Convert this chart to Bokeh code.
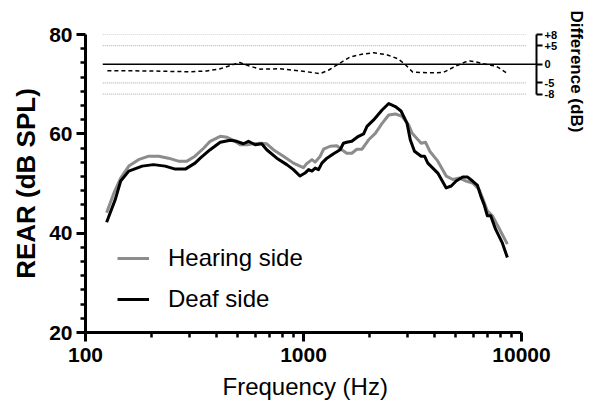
import numpy as np
from bokeh.plotting import figure
from bokeh.models import (Range1d, LinearAxis, FixedTicker, Legend,
                          LegendItem, NumeralTickFormatter, Title)
from bokeh.embed import file_html
from bokeh.resources import INLINE

# ---------------- data ----------------
hearing_freq = [125, 135, 145, 158, 175, 195, 217, 240, 267, 292, 318, 348, 373,
                415, 446, 477, 512, 550, 589, 632, 678, 727, 809, 899, 963, 1000,
                1034, 1093, 1131, 1193, 1236, 1325, 1421, 1498, 1578, 1665, 1756,
                1855, 1989, 2135, 2293, 2460, 2637, 2831, 3035, 3150, 3465, 3630,
                3794, 4130, 4514, 4840, 5190, 5566, 5960, 6395, 6620, 6970, 7350,
                7930, 8610]
hearing_db = [44.1, 48.1, 51.1, 53.5, 54.8, 55.5, 55.5, 55.1, 54.5, 54.5, 55.5,
              57.1, 58.5, 59.5, 59.3, 58.7, 57.8, 57.8, 58.0, 58.1, 58.0, 56.8,
              55.5, 54.1, 53.5, 53.2, 54.0, 54.8, 54.3, 55.5, 56.9, 57.5, 57.6,
              56.8, 56.1, 56.1, 56.9, 56.9, 58.8, 60.1, 62.1, 63.8, 64.0, 63.5,
              61.8, 60.1, 58.1, 58.3, 56.5, 54.5, 51.5, 50.8, 51.1, 50.5, 50.1,
              48.8, 47.1, 44.5, 43.5, 40.8, 37.8]

deaf_freq = [125, 137, 145, 158, 182, 205, 232, 258, 287, 318, 336, 373, 415,
             461, 494, 530, 559, 600, 643, 678, 754, 838, 899, 963, 1016, 1055,
             1093, 1131, 1172, 1214, 1280, 1373, 1472, 1524, 1578, 1665, 1787,
             1887, 1955, 2097, 2293, 2460, 2637, 2800, 2985, 3088, 3228, 3465,
             3590, 3717, 4130, 4514, 4760, 5015, 5370, 5660, 5960, 6280, 6500,
             6730, 6970, 7220, 7600, 8150, 8610]
deaf_db = [42.2, 46.8, 50.5, 52.5, 53.5, 53.8, 53.5, 52.9, 52.9, 54.1, 55.1,
           56.8, 58.3, 58.7, 58.5, 58.0, 58.5, 57.8, 58.0, 56.8, 55.1, 53.8,
           52.8, 51.5, 52.1, 52.8, 52.5, 53.1, 52.8, 54.1, 55.1, 56.0, 56.8,
           58.1, 58.3, 58.5, 59.5, 60.0, 61.5, 62.8, 64.8, 66.1, 65.5, 64.6,
           62.1, 58.8, 56.5, 55.5, 55.5, 54.1, 52.1, 49.1, 49.5, 50.5, 51.3,
           51.3, 50.5, 49.6, 47.5, 45.8, 43.5, 43.5, 40.8, 38.1, 35.1]

diff_freq = [126, 200, 300, 360, 415, 470, 510, 560, 632, 781, 900, 1038, 1190,
             1300, 1413, 1626, 1850, 2100, 2405, 2700, 2900, 3170, 3800, 4370,
             5030, 5500, 5780, 6200, 6620, 7300, 7650, 8640]
diff_db = [-1.7, -1.8, -2.0, -1.8, -1.2, -0.2, 0.5, -0.4, -1.3, -1.2, -1.6, -2.0,
           -2.5, -1.6, -0.3, 1.9, 2.7, 3.1, 2.6, 1.5, 0.2, -2.1, -2.3, -2.2,
           -0.4, 0.6, 0.9, 0.6, 0.2, -0.3, -0.5, -2.5]

x_ticks = [100, 1000, 10000]
y_ticks = [20, 40, 60, 80]
diff_ticks = [8, 5, 0, -5, -8]
diff_guides = [8, 5, -5, -8]
series_names = ["Hearing side", "Deaf side"]

# ---------------- layout constants ----------------
FONT = "Liberation Sans"
W, H = 593, 407
LEFT, TOP, FRAME_W, FRAME_H = 85, 34, 452, 298
DECADE_PX = 437 / 2.0
x_end = 10 ** (2 + FRAME_W / DECADE_PX)
guide_start, guide_end = 120, 10500
diff_range = (-72, 8)

p = figure(width=W, height=H, x_axis_type="log",
           x_range=Range1d(100, x_end), y_range=Range1d(20, 80),
           output_backend="svg", toolbar_location=None,
           min_border_left=LEFT, min_border_top=TOP,
           min_border_right=W - LEFT - FRAME_W,
           min_border_bottom=H - TOP - FRAME_H)
p.outline_line_color = None
p.grid.visible = False
p.background_fill_color = "white"
p.border_fill_color = "white"
p.extra_y_ranges = {"diff": Range1d(*diff_range)}

# bottom axis
xa = p.xaxis[0]
xa.ticker = FixedTicker(ticks=x_ticks,
                        minor_ticks=[m * 10 ** e for e in (2, 3) for m in range(2, 10)])
xa.formatter = NumeralTickFormatter(format="0")
xa.bounds = (x_ticks[0], x_ticks[-1])
xa.axis_line_width = 3
xa.major_tick_line_width = 3
xa.minor_tick_line_width = 2.5
xa.major_tick_out = 9
xa.major_tick_in = 0
xa.minor_tick_out = 5
xa.minor_tick_in = 0
xa.major_label_text_font = FONT
xa.major_label_text_font_style = "bold"
xa.major_label_text_font_size = "21px"
xa.major_label_text_color = "black"
xa.major_label_standoff = 6

# left axis
ya = p.yaxis[0]
minor_y = []
for a, b in zip(y_ticks[:-1], y_ticks[1:]):
    minor_y += list(np.linspace(a, b, 8)[1:-1])
ya.ticker = FixedTicker(ticks=y_ticks, minor_ticks=minor_y)
ya.axis_line_width = 3
ya.major_tick_line_width = 3
ya.minor_tick_line_width = 2.5
ya.major_tick_out = 9
ya.major_tick_in = 0
ya.minor_tick_out = 5
ya.minor_tick_in = 0
ya.major_label_text_font = FONT
ya.major_label_text_font_style = "bold"
ya.major_label_text_font_size = "21px"
ya.major_label_text_color = "black"
ya.major_label_standoff = 4
ya.axis_label = "REAR (dB SPL)"
ya.axis_label_text_font = FONT
ya.axis_label_text_font_style = "bold"
ya.axis_label_text_font_size = "26px"
ya.axis_label_text_color = "black"
ya.axis_label_standoff = 5

# right "difference" axis
ra = LinearAxis(y_range_name="diff",
                ticker=FixedTicker(ticks=diff_ticks, minor_ticks=[]),
                bounds=(min(diff_ticks), max(diff_ticks)))
ra.major_label_overrides = {t: ("0" if t == 0 else f"{t:+d}") for t in diff_ticks}
ra.axis_line_width = 2
ra.major_tick_line_width = 2
ra.major_tick_out = 6
ra.major_tick_in = 0
ra.minor_tick_out = 0
ra.major_label_standoff = 2
ra.major_label_text_font = FONT
ra.major_label_text_font_style = "bold"
ra.major_label_text_font_size = "11px"
ra.major_label_text_color = "black"
p.add_layout(ra, "right")

p.add_layout(Title(text="Difference (dB)", align="left", offset=-24,
                   standoff=12, text_font=FONT, text_font_style="bold",
                   text_font_size="17px", text_color="black"), "right")

# guide lines in the difference panel
p.segment(x0=[guide_start] * len(diff_guides), x1=[guide_end] * len(diff_guides),
          y0=diff_guides, y1=diff_guides, y_range_name="diff",
          line_color="#a8a8a8", line_width=1, line_dash="1 1")
p.segment(x0=[guide_start], x1=[x_end], y0=[0], y1=[0], y_range_name="diff",
          line_color="black", line_width=1.5)
p.line(diff_freq, diff_db, y_range_name="diff", line_color="black",
       line_width=1.5, line_dash="4 3")

# curves
r_h = p.line(hearing_freq, hearing_db, line_color="#8c8c8c", line_width=3,
             line_join="round")
r_d = p.line(deaf_freq, deaf_db, line_color="black", line_width=3,
             line_join="round")

legend = Legend(items=[LegendItem(label=series_names[0], renderers=[r_h]),
                       LegendItem(label=series_names[1], renderers=[r_d])],
                location=(32, 19), padding=0, margin=0, spacing=13,
                glyph_width=32, glyph_height=24, label_height=24,
                label_standoff=19, border_line_color=None,
                background_fill_alpha=0,
                label_text_font=FONT, label_text_font_size="24px",
                label_text_color="black")
p.add_layout(legend)

p.add_layout(Title(text="Frequency (Hz)", align="left", offset=137, standoff=12,
                   text_font=FONT, text_font_style="normal",
                   text_font_size="24px", text_color="black"), "below")

open("out.html", "w").write(file_html(p, INLINE))
